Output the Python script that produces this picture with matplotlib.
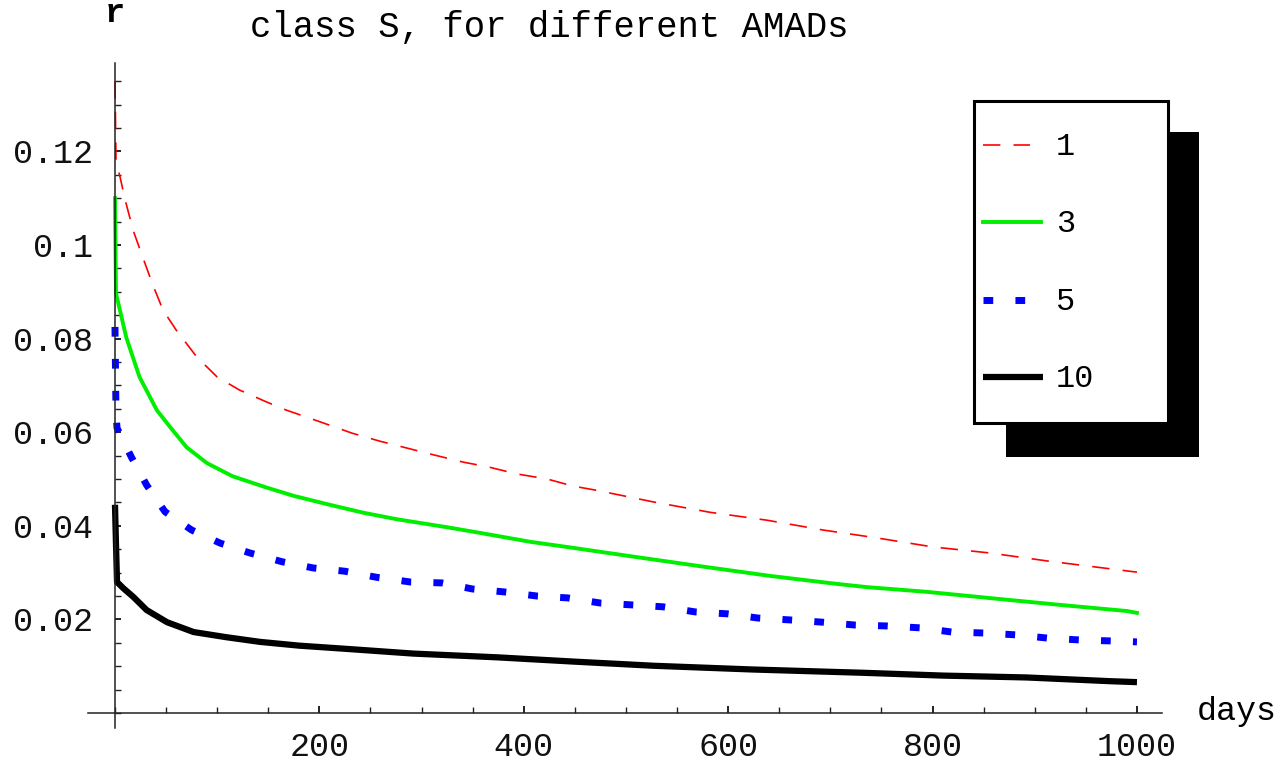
import matplotlib
matplotlib.use("Agg")
import matplotlib.pyplot as plt
from matplotlib.lines import Line2D
from matplotlib.patches import Rectangle
from matplotlib.ticker import FixedLocator, MultipleLocator, FixedFormatter

plt.rcParams['lines.scale_dashes'] = False
FONT = ['Liberation Mono', 'DejaVu Sans Mono']

# ---- data ----
days_1 = [0, 1, 5, 10, 18, 27, 37, 47, 60, 80, 100, 122, 148, 168, 201, 232, 259, 286,
          313, 341, 365, 393, 423, 448, 471, 527, 582, 638, 693, 746, 800, 856, 912, 967, 1000]
r_1 = [0.135, 0.118, 0.1145, 0.1096, 0.103, 0.0975, 0.0915, 0.0861, 0.0818, 0.0761, 0.0718,
       0.069, 0.0665, 0.0647, 0.0622, 0.0598, 0.0581, 0.0566, 0.0551, 0.0536, 0.0526, 0.0511,
       0.05, 0.0485, 0.0476, 0.0451, 0.0429, 0.0412, 0.0391, 0.0374, 0.0355, 0.0342, 0.0325,
       0.031, 0.0301]

days_3 = [0, 1, 11, 24, 41, 54, 70, 90, 115, 148, 175, 210, 243, 276, 325, 357, 406, 448,
          511, 575, 641, 706, 736, 794, 859, 925, 990, 1000]
r_3 = [0.110, 0.0897, 0.0803, 0.0718, 0.0647, 0.0611, 0.0568, 0.0534, 0.0506, 0.0482, 0.0464,
       0.0445, 0.0428, 0.0414, 0.0397, 0.0385, 0.0366, 0.0353, 0.0333, 0.0313, 0.0293, 0.0276,
       0.0269, 0.0259, 0.0245, 0.0231, 0.0218, 0.0214]

days_5 = [0, 1, 2, 16, 31, 49, 75, 103, 132, 164, 194, 225, 256, 289, 320, 350, 380, 413, 443,
          475, 506, 536, 568, 599, 629, 660, 693, 724, 756, 788, 819, 850, 882, 913, 945, 975, 1000]
r_5 = [0.0825, 0.064, 0.0609, 0.0547, 0.0487, 0.043, 0.0391, 0.0363, 0.0342, 0.0323, 0.031,
       0.0303, 0.029, 0.028, 0.0278, 0.0265, 0.0259, 0.025, 0.0246, 0.0235, 0.0231, 0.0227,
       0.0216, 0.0212, 0.0203, 0.0199, 0.0194, 0.0188, 0.0186, 0.0182, 0.0173, 0.0171, 0.0167,
       0.016, 0.0156, 0.0154, 0.0152]

days_10 = [0, 1, 2, 8, 18, 31, 51, 77, 109, 142, 180, 227, 292, 374, 448, 527, 624, 732, 810,
           892, 974, 1000]
r_10 = [0.0445, 0.036, 0.028, 0.0267, 0.0248, 0.022, 0.0194, 0.0173, 0.0162, 0.0152, 0.0144,
        0.0137, 0.0127, 0.0119, 0.011, 0.0101, 0.0093, 0.0086, 0.008, 0.0076, 0.0068, 0.0066]

legend_labels = ['1', '3', '5', '10']
x_major = [200, 400, 600, 800, 1000]
x_labels = ['200', '400', '600', '800', '1000']
y_major = [0.02, 0.04, 0.06, 0.08, 0.1, 0.12]
y_labels = ['0.02', '0.04', '0.06', '0.08', '0.1', '0.12']
title = 'class S, for different AMADs'

# ---- styles ----
styles = [
    dict(color='#ff0000', lw=1.2, linestyle=(0, (12.5, 9.5)), dash_capstyle='butt'),
    dict(color='#00ee00', lw=2.8, linestyle='-'),
    dict(color='#0000ff', lw=5.0, linestyle=(0, (7, 16)), dash_capstyle='butt'),
    dict(color='#000000', lw=4.5, linestyle='-', solid_capstyle='butt'),
]

W, H = 1284, 762
fig = plt.figure(figsize=(W / 100, H / 100), dpi=100)
ax = fig.add_axes([88 / W, 1 - 728 / H, (1162 - 88) / W, (728 - 63) / H])
ax.set_xlim(-26.4, 1024.5)
ax.set_ylim(-0.0032, 0.1389)

series = [(days_1, r_1), (days_3, r_3), (days_5, r_5), (days_10, r_10)]
for (d, r), st in zip(series, styles):
    ax.plot(d, r, **st)

for s in ['top', 'right']:
    ax.spines[s].set_visible(False)
ax.spines['left'].set_position(('data', 0))
ax.spines['bottom'].set_position(('data', 0))
for s in ['left', 'bottom']:
    ax.spines[s].set_linewidth(1.1)
    ax.spines[s].set_color('#222222')

ax.xaxis.set_major_locator(FixedLocator(x_major))
ax.xaxis.set_major_formatter(FixedFormatter(x_labels))
ax.xaxis.set_minor_locator(MultipleLocator(50))
ax.yaxis.set_major_locator(FixedLocator(y_major))
ax.yaxis.set_major_formatter(FixedFormatter(y_labels))
ax.yaxis.set_minor_locator(MultipleLocator(0.005))

ax.tick_params(axis='x', which='major', direction='in', length=5, width=1.4, pad=14, color='#222222')
ax.tick_params(axis='x', which='minor', direction='in', length=4, width=1.0, color='#222222')
ax.tick_params(axis='y', which='major', direction='in', length=4.5, width=1.4, pad=16, color='#222222')
ax.tick_params(axis='y', which='minor', direction='in', length=4, width=1.0, color='#222222')
for lab in ax.get_xticklabels() + ax.get_yticklabels():
    lab.set_fontfamily(FONT)
    lab.set_fontsize(24)
    lab.set_color('#111111')

def fx(x):
    return x / W

def fy(y):
    return 1 - y / H

fig.text(fx(115), fy(22), 'r', family=FONT, fontsize=24, ha='center', va='baseline', weight='bold')
fig.text(fx(549), fy(37), title, family=FONT, fontsize=25.7, ha='center', va='baseline')
fig.text(fx(1197), fy(720), 'days', family=FONT, fontsize=24, ha='left', va='baseline')

# ---- legend with hard black shadow ----
fig.add_artist(Rectangle((fx(1006), fy(457)), (1199 - 1006) / W, (457 - 132) / H,
                         transform=fig.transFigure, facecolor='black', edgecolor='none', zorder=5))
fig.add_artist(Rectangle((fx(973.5), fy(422.5)), (1167.5 - 973.5) / W, (422.5 - 100.5) / H,
                         transform=fig.transFigure, facecolor='white', edgecolor='black',
                         lw=2.2, zorder=6))
leg_y = [145, 222, 300, 377]
leg_x1 = [1030, 1041, 1025, 1043]
for lab, y, x1, st in zip(legend_labels, leg_y, leg_x1, styles):
    fig.add_artist(Line2D([fx(983), fx(x1)], [fy(y), fy(y)], transform=fig.transFigure,
                          zorder=7, **st))
    fig.text(fx(1056), fy(y + 10), lab, family=FONT, fontsize=23, ha='left', va='baseline',
             zorder=8)

fig.savefig('out.png', dpi=100)
